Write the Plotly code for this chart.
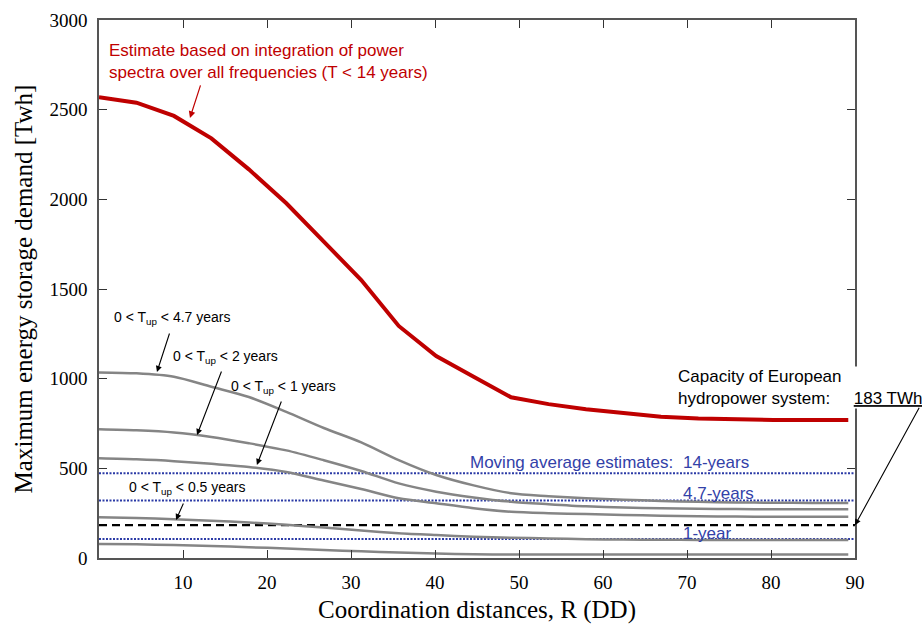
import plotly.graph_objects as go

# Coordination distances (DD)
R = [0, 4.46, 8.92, 13.38, 17.84, 22.3, 26.76, 31.22, 35.68, 40.14, 44.6,
     49.06, 53.52, 57.98, 62.44, 66.9, 71.36, 75.82, 80.28, 84.74, 89.2]

# Estimate based on integration of power spectra (T < 14 years)
red_total = [2569, 2539, 2465, 2340, 2167, 1978, 1764, 1550, 1294, 1126, 1011,
             896, 858, 830, 808, 787, 778, 773, 770, 770, 770]

# 0 < T_up < 4.7 years
tup_47 = [1035, 1030, 1011, 955, 898, 815, 725, 645, 546, 463, 405,
          361, 345, 333, 325, 318, 313, 310, 308, 307, 306]
# 0 < T_up < 2 years
tup_2 = [718, 712, 700, 675, 640, 600, 545, 485, 416, 370, 338,
         314, 300, 288, 281, 277, 274, 273, 272, 272, 272]
# 0 < T_up < 1 years
tup_1 = [556, 550, 540, 525, 508, 480, 432, 385, 333, 305, 278,
         258, 250, 245, 240, 236, 233, 231, 230, 230, 230]
# 0 < T_up < 0.5 years
tup_05 = [227, 223, 216, 208, 198, 185, 170, 153, 138, 128, 119,
          113, 109, 105, 103, 102, 101, 100, 100, 100, 100]
# lowest curve
tup_low = [78, 76, 72, 67, 60, 53, 45, 37, 30, 25, 21,
           19, 19, 19, 19, 20, 20, 20, 20, 20, 20]

# Moving average estimates (horizontal levels)
ma_labels = ["14-years", "4.7-years", "1-year"]
ma_values = [472, 320, 106]
hydro_capacity = 183

x_span = [0, 90]
x_ticks = [10, 20, 30, 40, 50, 60, 70, 80, 90]
y_ticks = [0, 500, 1000, 1500, 2000, 2500, 3000]

RED = "#bf0000"
GRAY = "#858585"
BLUE = "#2b3aa6"
BLUE_TXT = "#3241a8"

fig = go.Figure()

for v in ma_values:
    fig.add_trace(go.Scatter(x=x_span, y=[v, v], mode="lines",
                             line=dict(color=BLUE, width=2, dash="2px,1.5px"),
                             hoverinfo="skip", showlegend=False))

fig.add_trace(go.Scatter(x=x_span, y=[hydro_capacity, hydro_capacity], mode="lines",
                         line=dict(color="black", width=2.2, dash="8px,5px"),
                         hoverinfo="skip", showlegend=False))

for series in [tup_47, tup_2, tup_1, tup_05, tup_low]:
    fig.add_trace(go.Scatter(x=R, y=series, mode="lines",
                             line=dict(color=GRAY, width=2.5, shape="spline", smoothing=0.8),
                             hoverinfo="skip", showlegend=False))

fig.add_trace(go.Scatter(x=R, y=red_total, mode="lines",
                         line=dict(color=RED, width=4),
                         hoverinfo="skip", showlegend=False))

SANS = "Liberation Sans, Arial, sans-serif"
SERIF = "Liberation Serif, Times New Roman, serif"

ann = []
# red text + arrow
ann.append(dict(x=0.95, y=2771, xref="x", yref="y", xanchor="left", yanchor="middle",
                align="left", showarrow=False,
                text="Estimate based on integration of power<br>spectra over all frequencies (T < 14 years)",
                font=dict(family=SANS, size=17, color=RED)))
ann.append(dict(x=10.83, y=2454, xref="x", yref="y", ax=11, ay=-34, text="",
                showarrow=True, arrowhead=2, arrowsize=1.1, arrowwidth=1.2, arrowcolor=RED))

# T_up labels
tup_texts = [("0 < T<sub>up</sub> < 4.7 years", 1.55, 1338, (6.9, 1037), (13, -40)),
             ("0 < T<sub>up</sub> < 2 years", 8.54, 1122, (11.67, 686), (25, -65)),
             ("0 < T<sub>up</sub> < 1 years", 15.48, 955, (18.8, 519), (25, -65)),
             ("0 < T<sub>up</sub> < 0.5 years", 3.3, 390, (9.17, 212), (8, -18))]
for txt, tx, ty, (hx, hy), (axo, ayo) in tup_texts:
    ann.append(dict(x=tx, y=ty, xref="x", yref="y", xanchor="left", yanchor="middle",
                    showarrow=False, text=txt, font=dict(family=SANS, size=14, color="black")))
    ann.append(dict(x=hx, y=hy, xref="x", yref="y", ax=axo, ay=ayo, text="",
                    showarrow=True, arrowhead=2, arrowsize=1.1, arrowwidth=1.1, arrowcolor="black"))

# moving average labels
ann.append(dict(x=43.93, y=530, xref="x", yref="y", xanchor="left", yanchor="middle",
                showarrow=False, text="Moving average estimates:",
                font=dict(family=SANS, size=17, color=BLUE_TXT)))
for lab, ty in zip(ma_labels, [530, 362, 134]):
    ann.append(dict(x=69.3, y=ty, xref="x", yref="y", xanchor="left", yanchor="middle",
                    showarrow=False, text=lab, font=dict(family=SANS, size=17, color=BLUE_TXT)))

# capacity text
ann.append(dict(x=68.8, y=948, xref="x", yref="y", xanchor="left", yanchor="middle",
                align="left", showarrow=False, bgcolor="white", borderpad=0,
                text="Capacity of European<br>hydropower system:" + "\u00a0" * 5 + "<u>183 TWh</u>",
                font=dict(family=SANS, size=17, color="black")))
ann.append(dict(x=90, y=hydro_capacity, xref="x", yref="y", ax=65, ay=-119, text="",
                showarrow=True, arrowhead=2, arrowsize=1.1, arrowwidth=1.1, arrowcolor="black"))

fig.update_layout(
    width=922, height=624,
    margin=dict(l=99, r=67, t=20, b=66),
    paper_bgcolor="white", plot_bgcolor="white",
    annotations=ann,
    xaxis=dict(range=x_span, tickvals=x_ticks, ticktext=[str(t) for t in x_ticks],
               ticks="inside", ticklen=8, tickcolor="#333", showline=True, linecolor="#555",
               linewidth=1.5, mirror="ticks", showgrid=False, zeroline=False,
               automargin=False,
               tickfont=dict(family=SERIF, size=19, color="black"), ticklabelstandoff=6,
               title=dict(text="Coordination distances, R (DD)", standoff=12,
                          font=dict(family=SERIF, size=25, color="black"))),
    yaxis=dict(range=[0, 3000], tickvals=y_ticks, ticktext=[str(t) for t in y_ticks],
               ticks="inside", ticklen=8, tickcolor="#333", showline=True, linecolor="#555",
               linewidth=1.5, mirror="ticks", showgrid=False, zeroline=False,
               automargin=False,
               tickfont=dict(family=SERIF, size=19, color="black"), ticklabelstandoff=6,
               title=dict(text="Maximum energy storage demand [Twh]", standoff=10,
                          font=dict(family=SERIF, size=25, color="black"))),
)

fig.write_html("out.html")
